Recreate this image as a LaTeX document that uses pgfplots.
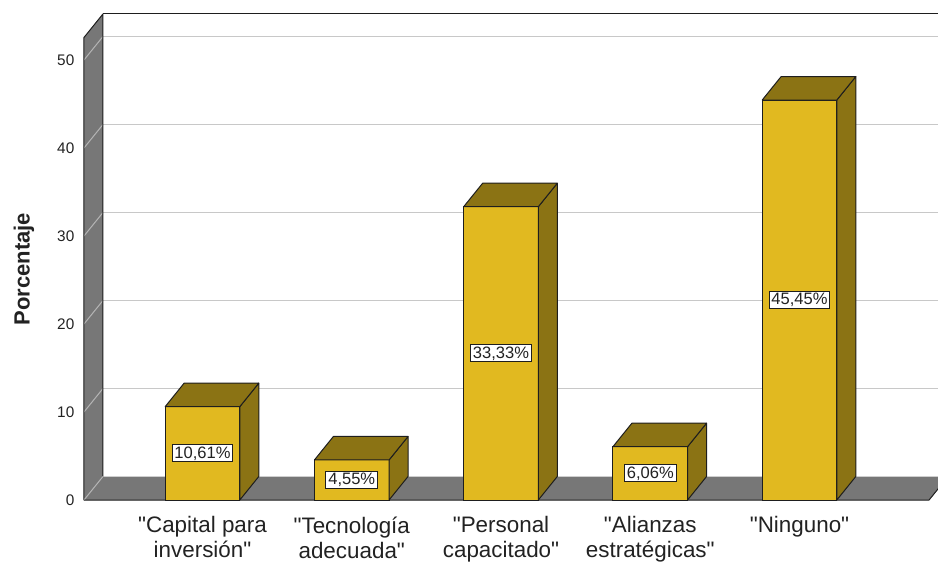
\documentclass[border=0pt]{standalone}
\usepackage{fontspec}
\setmainfont{Liberation Sans}[Ligatures=TeXOff]
\usepackage{pgfplots}
\usepackage{pgfplotstable}
\pgfplotsset{compat=1.18}

\definecolor{barfront}{RGB}{225,185,32}
\definecolor{barshade}{RGB}{139,115,20}
\definecolor{wallgrey}{RGB}{119,119,119}
\definecolor{gridgrey}{RGB}{200,200,200}
\definecolor{walllight}{RGB}{180,180,180}
\definecolor{edge}{RGB}{30,30,30}
\definecolor{txt}{RGB}{34,34,34}

\pgfplotstableread{
idx val
0 10.61
1 4.55
2 33.33
3 6.06
4 45.45
}\datatable

% depth of the 3D extrusion, in data units
\def\depthx{0.127}
\def\depthy{2.67}

\begin{document}
\begin{tikzpicture}
\path[use as bounding box] (-63pt,-45.75pt) rectangle (640.5pt,375pt);
\begin{axis}[
  x=111.94pt, y=6.6pt,
  xmin=-0.794, xmax=4.995, ymin=0, ymax=55.23,
  clip=false,
  axis line style={draw=none},
  tick style={draw=none},
  major tick length=0pt,
  xtick={0,...,4},
  xticklabels={{"Capital para\\inversión"},{"Tecnología\\adecuada"},{"Personal\\capacitado"},{"Alianzas\\estratégicas"},{"Ninguno"}},
  xticklabel style={align=center, anchor=north, yshift=-9pt, font=\fontsize{16.8}{18.75}\selectfont, text=txt},
  ytick={0,10,...,50},
  yticklabel style={font=\fontsize{11.5}{13}\selectfont, text=txt, xshift=-3.75pt},
  /pgf/number format/assume math mode=true,
  ylabel={Porcentaje},
  ylabel style={font=\bfseries\fontsize{16.5}{18}\selectfont, text=txt,
    at={(axis description cs:-0.0694,0.4752)}, anchor=center},
]
% back wall: top border and grid lines
\addplot[draw=edge, line width=0.75pt] coordinates {(-0.667,55.23) (5.3,55.23)};
\addplot[draw=gridgrey, line width=0.75pt] coordinates {(-0.667,12.67) (5.3,12.67)};
\addplot[draw=gridgrey, line width=0.75pt] coordinates {(-0.667,22.67) (5.3,22.67)};
\addplot[draw=gridgrey, line width=0.75pt] coordinates {(-0.667,32.67) (5.3,32.67)};
\addplot[draw=gridgrey, line width=0.75pt] coordinates {(-0.667,42.67) (5.3,42.67)};
\addplot[draw=gridgrey, line width=0.75pt] coordinates {(-0.667,52.67) (5.3,52.67)};
% left wall
\addplot[fill=wallgrey, draw=none] coordinates {(-0.794,0) (-0.794,52.56) (-0.667,55.23) (-0.667,2.67)} -- cycle;
\addplot[draw=walllight, line width=0.75pt] coordinates {(-0.794,10) (-0.667,12.67)};
\addplot[draw=walllight, line width=0.75pt] coordinates {(-0.794,20) (-0.667,22.67)};
\addplot[draw=walllight, line width=0.75pt] coordinates {(-0.794,30) (-0.667,32.67)};
\addplot[draw=walllight, line width=0.75pt] coordinates {(-0.794,40) (-0.667,42.67)};
\addplot[draw=walllight, line width=0.75pt] coordinates {(-0.794,50) (-0.667,52.67)};
\addplot[draw=edge, line width=0.75pt, line join=round] coordinates {(-0.794,0) (-0.794,52.56) (-0.667,55.23) (-0.667,2.67)};
% floor
\addplot[fill=wallgrey, draw=none] coordinates {(-0.794,0) (4.868,0) (4.995,2.67) (-0.667,2.67)} -- cycle;
\addplot[draw=walllight, line width=0.75pt] coordinates {(-0.794,0) (-0.667,2.67)};
\addplot[draw=edge, line width=0.75pt, line join=round] coordinates {(-0.794,0) (4.868,0) (4.995,2.67)};

% front faces of the bars
\addplot[ybar, bar width=0.5, bar shift=0pt, fill=barfront, draw=edge, line width=0.75pt]
  table[x=idx, y=val] {\datatable};

% side and top faces of the bars
\pgfplotsinvokeforeach{0,...,4}{
  \pgfplotstablegetelem{#1}{val}\of\datatable
  \pgfmathsetmacro\va{\pgfplotsretval}
  \pgfmathsetmacro\vb{\va+\depthy}
  \pgfmathsetmacro\xl{#1-0.25}
  \pgfmathsetmacro\xr{#1+0.25}
  \pgfmathsetmacro\xlb{\xl+\depthx}
  \pgfmathsetmacro\xrb{\xr+\depthx}
  \edef\facecmd{%
    \noexpand\addplot[fill=barshade, draw=edge, line width=0.75pt, line join=round]
      coordinates {(\xr,0) (\xrb,\depthy) (\xrb,\vb) (\xr,\va)} -- cycle;
    \noexpand\addplot[fill=barshade, draw=edge, line width=0.75pt, line join=round]
      coordinates {(\xl,\va) (\xr,\va) (\xrb,\vb) (\xlb,\vb)} -- cycle;
  }
  \facecmd
}

% value labels at half height of each bar
\addplot[draw=none, mark=none, point meta=explicit,
  nodes near coords={\pgfmathprintnumber[fixed, fixed zerofill, precision=2, use comma]{\pgfplotspointmeta}\%},
  nodes near coords align={center},
  every node near coord/.style={anchor=center, fill=white, draw=edge, line width=0.75pt,
    text=txt, font=\fontsize{12.4}{13}\selectfont, inner xsep=1.8pt, inner ysep=0pt,
    minimum height=12.75pt}]
  table[x=idx, y expr=\thisrow{val}/2, meta=val] {\datatable};
\end{axis}
\end{tikzpicture}
\end{document}
